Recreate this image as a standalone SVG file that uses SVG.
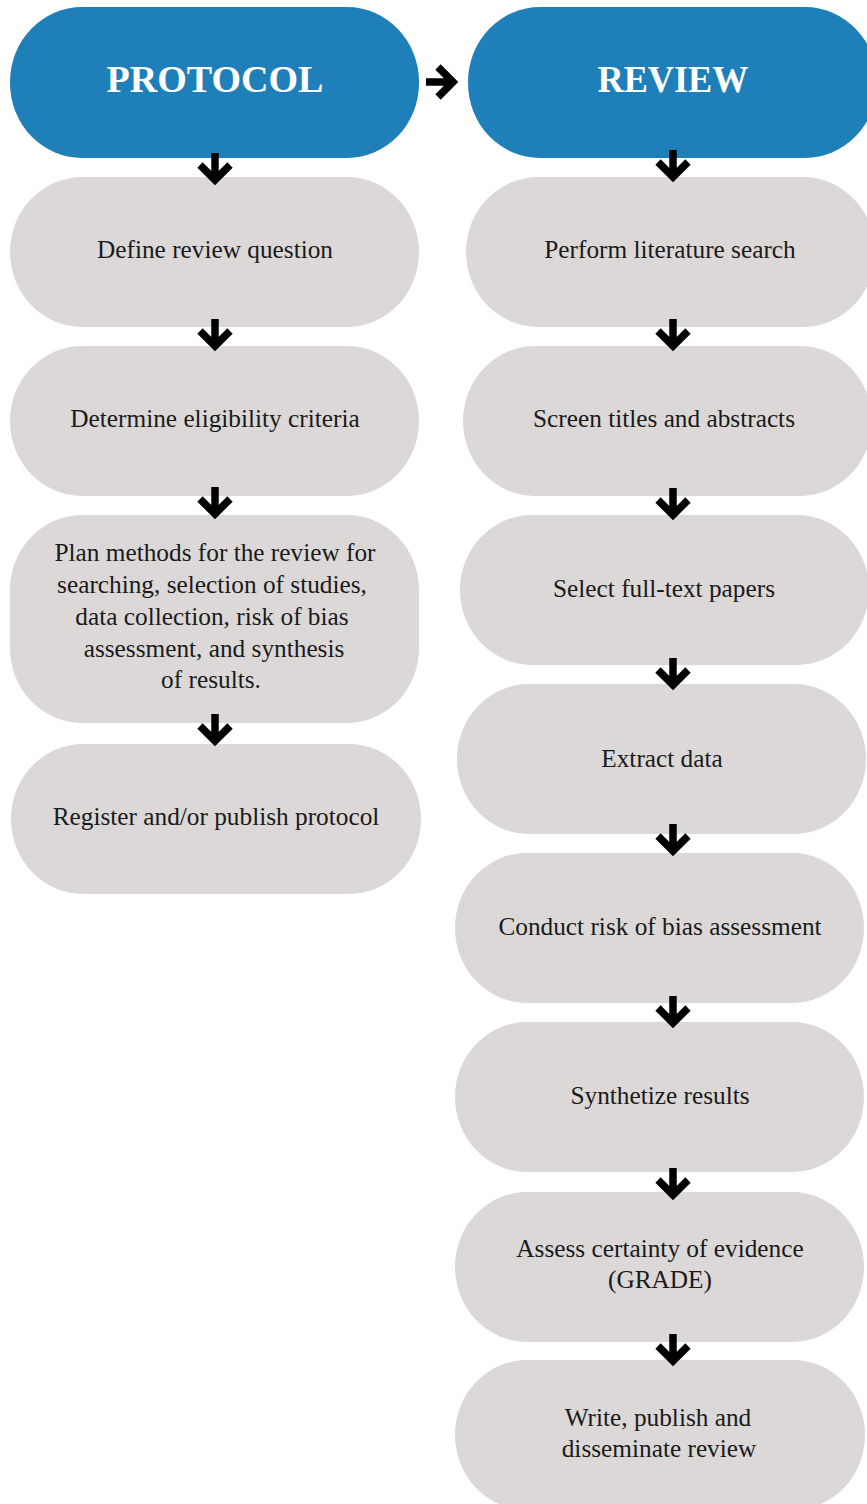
<svg xmlns="http://www.w3.org/2000/svg" xmlns:xlink="http://www.w3.org/1999/xlink" width="867" height="1504" viewBox="0 0 867 1504">
  <style>
    .head { fill: #1f7fb8; }
    .step { fill: #dbd8d7; }
    .head-label { font-family: "Liberation Serif", "DejaVu Serif", serif; font-weight: bold; font-size: 38px; fill: #ffffff; text-anchor: middle; }
    .label { font-family: "Liberation Serif", "DejaVu Serif", serif; font-size: 25.3px; fill: #1a1a1a; text-anchor: middle; }
    .arrow { fill: none; stroke: #000000; stroke-width: 7.5; stroke-linejoin: miter; stroke-linecap: butt; }
  </style>
  <defs>
    <!-- downward arrow; origin is the top of the stem -->
    <path id="arrow-down" class="arrow" d="M0 0 V27 M-15 12 L0 27 L15 12"/>
  </defs>

  <rect width="867" height="1504" fill="#ffffff"/>

  <!-- Protocol column -->
  <g id="protocol">
    <rect class="head" x="10" y="7" width="409" height="151" rx="72" ry="75"/>
    <text class="head-label" x="215" y="92">PROTOCOL</text>
  </g>
  <g id="define-question">
    <rect class="step" x="10" y="177" width="409" height="150" rx="72" ry="75"/>
    <text class="label" x="215" y="258">Define review question</text>
  </g>
  <g id="eligibility">
    <rect class="step" x="10" y="346" width="409" height="150" rx="72" ry="75"/>
    <text class="label" x="215" y="427">Determine eligibility criteria</text>
  </g>
  <g id="plan-methods">
    <rect class="step" x="10" y="515" width="409" height="208" rx="72" ry="75"/>
    <text class="label" x="215" y="561">Plan methods for the review for</text>
    <text class="label" x="212" y="593">searching, selection of studies,</text>
    <text class="label" x="212" y="625">data collection, risk of bias</text>
    <text class="label" x="214" y="657">assessment, and synthesis</text>
    <text class="label" x="211" y="688">of results.</text>
  </g>
  <g id="register-protocol">
    <rect class="step" x="11" y="744" width="410" height="150" rx="72" ry="75"/>
    <text class="label" x="216" y="825">Register and/or publish protocol</text>
  </g>

  <!-- Review column -->
  <g id="review">
    <rect class="head" x="468" y="7" width="409" height="151" rx="72" ry="75"/>
    <text class="head-label" x="673" y="92" textLength="151" lengthAdjust="spacingAndGlyphs">REVIEW</text>
  </g>
  <g id="literature-search">
    <rect class="step" x="466" y="177" width="409" height="150" rx="72" ry="75"/>
    <text class="label" x="670" y="258">Perform literature search</text>
  </g>
  <g id="screen-titles">
    <rect class="step" x="463" y="346" width="409" height="150" rx="72" ry="75"/>
    <text class="label" x="664" y="427">Screen titles and abstracts</text>
  </g>
  <g id="full-text">
    <rect class="step" x="460" y="515" width="409" height="150" rx="72" ry="75"/>
    <text class="label" x="664" y="597">Select full-text papers</text>
  </g>
  <g id="extract-data">
    <rect class="step" x="457" y="684" width="409" height="150" rx="72" ry="75"/>
    <text class="label" x="662" y="767">Extract data</text>
  </g>
  <g id="risk-of-bias">
    <rect class="step" x="455" y="853" width="409" height="150" rx="72" ry="75"/>
    <text class="label" x="660" y="935">Conduct risk of bias assessment</text>
  </g>
  <g id="synthetize">
    <rect class="step" x="455" y="1022" width="409" height="150" rx="72" ry="75"/>
    <text class="label" x="660" y="1104">Synthetize results</text>
  </g>
  <g id="grade">
    <rect class="step" x="455" y="1192" width="409" height="150" rx="72" ry="75"/>
    <text class="label" x="660" y="1257">Assess certainty of evidence</text>
    <text class="label" x="660" y="1288">(GRADE)</text>
  </g>
  <g id="disseminate">
    <rect class="step" x="455" y="1360" width="410" height="150" rx="72" ry="75"/>
    <text class="label" x="658" y="1426">Write, publish and</text>
    <text class="label" x="659" y="1457">disseminate review</text>
  </g>

  <!-- Connectors -->
  <g id="connectors">
    <use xlink:href="#arrow-down" transform="translate(426 82) rotate(-90)"/>

    <use xlink:href="#arrow-down" x="215" y="153"/>
    <use xlink:href="#arrow-down" x="215" y="319"/>
    <use xlink:href="#arrow-down" x="215" y="487"/>
    <use xlink:href="#arrow-down" x="215" y="714"/>

    <use xlink:href="#arrow-down" x="673" y="150"/>
    <use xlink:href="#arrow-down" x="673" y="319"/>
    <use xlink:href="#arrow-down" x="673" y="488"/>
    <use xlink:href="#arrow-down" x="673" y="658"/>
    <use xlink:href="#arrow-down" x="673" y="824"/>
    <use xlink:href="#arrow-down" x="673" y="996"/>
    <use xlink:href="#arrow-down" x="673" y="1168"/>
    <use xlink:href="#arrow-down" x="673" y="1334"/>
  </g>
</svg>
